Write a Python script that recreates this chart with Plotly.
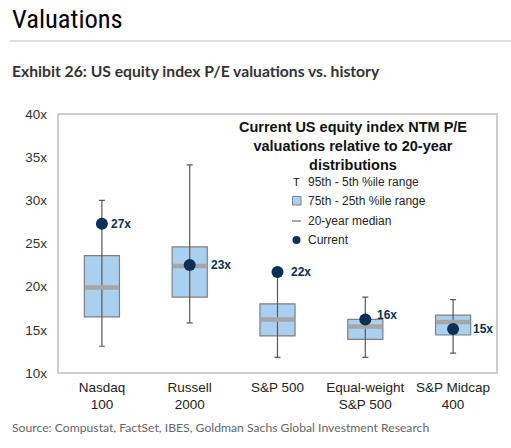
import plotly.graph_objects as go

# data (P/E multiples)
indexes = ["Nasdaq<br>100", "Russell<br>2000", "S&P 500", "Equal-weight<br>S&P 500", "S&P Midcap<br>400"]
p95 = [30.0, 34.1, 21.7, 18.8, 18.5]
p75 = [23.6, 24.6, 18.0, 16.2, 16.7]
median = [19.9, 22.4, 16.2, 15.4, 15.9]
p25 = [16.5, 18.8, 14.3, 13.9, 14.4]
p5 = [13.1, 15.8, 11.8, 11.8, 12.3]
current = [27.3, 22.5, 21.7, 16.2, 15.1]
current_labels = ["27x", "23x", "22x", "16x", "15x"]

BOX_BLUE = "#a9d0ef"
NAVY = "#0b2f57"
GREY = "#a6a6a6"
FONT = "Arial, Liberation Sans, sans-serif"

fig = go.Figure()

# interquartile boxes
fig.add_trace(go.Bar(
    x=indexes, y=[a - b for a, b in zip(p75, p25)], base=p25, width=0.4,
    marker=dict(color=BOX_BLUE, line=dict(color="#7f7f7f", width=1.2)),
    hoverinfo="skip", showlegend=False))

# 95th - 5th whiskers
fig.add_trace(go.Scatter(
    x=indexes, y=median, mode="markers", marker=dict(size=1, opacity=0),
    error_y=dict(type="data", symmetric=False,
                 array=[a - m for a, m in zip(p95, median)],
                 arrayminus=[m - b for m, b in zip(median, p5)],
                 color="#595959", thickness=1.2, width=3),
    hoverinfo="skip", showlegend=False))

# 20y median
fig.add_trace(go.Scatter(
    x=indexes, y=median, mode="markers",
    marker=dict(symbol="line-ew", size=24, line=dict(color=GREY, width=4.5)),
    showlegend=False))

# current
fig.add_trace(go.Scatter(
    x=indexes, y=current, mode="markers",
    marker=dict(size=12, color=NAVY),
    showlegend=False))

# screen pixel -> paper coords (plot area is 58..497 x 114..373)
def px(x):
    return (x - 58) / 439

def py(y):
    return (373 - y) / 259

annotations = [
    dict(text="Valuations", x=px(10), y=py(18), xanchor="left", yanchor="middle",
         font=dict(family="Liberation Sans Narrow, Roboto Condensed, Arial", size=26.5, color="#000000")),
    dict(text="<b>Exhibit 26: US equity index P/E valuations vs. history</b>", x=px(10), y=py(71),
         xanchor="left", yanchor="middle",
         font=dict(family="Lato, Open Sans, sans-serif", size=15.7, color="#333333")),
    dict(text="Source: Compustat, FactSet, IBES, Goldman Sachs Global Investment Research",
         x=px(10), y=py(427), xanchor="left", yanchor="middle",
         font=dict(family="Lato, Open Sans, sans-serif", size=12.2, color="#666666")),
    dict(text="<b>Current US equity index NTM P/E<br>valuations relative to 20-year<br>distributions</b>",
         x=px(353), y=py(146), xanchor="center", yanchor="middle", align="center",
         font=dict(family=FONT, size=14.5, color="#111111")),
    dict(text="T", x=px(296), y=py(182), xanchor="center", yanchor="middle",
         font=dict(family=FONT, size=11, color="#111111")),
]
legend_items = ["95th - 5th %ile range", "75th - 25th %ile range", "20-year median", "Current"]
legend_y = [182, 201, 221, 240]
for label, yy in zip(legend_items, legend_y):
    annotations.append(dict(text=label, x=px(306), y=py(yy), xanchor="left", yanchor="middle",
                            font=dict(family=FONT, size=12, color="#262626")))
for a in annotations:
    a.update(xref="paper", yref="paper", showarrow=False)

# value labels next to the current dots (offsets in px, as placed in the original)
label_dx = [7, 19, 11, 10, 18]
label_dy = [0, 0, 0, 4, 0]
for cat, val, lab, dx, dy in zip(indexes, current, current_labels, label_dx, label_dy):
    annotations.append(dict(x=cat, y=val, text="<b>" + lab + "</b>", xref="x", yref="y",
                            showarrow=False, xanchor="left", yanchor="middle",
                            xshift=dx, yshift=dy,
                            font=dict(family=FONT, size=12, color=NAVY)))

shapes = [
    dict(type="line", xref="paper", yref="paper", x0=px(10), x1=px(511), y0=py(41), y1=py(41),
         line=dict(color="#bdbdbd", width=1.2)),
    dict(type="rect", xref="paper", yref="paper", x0=0, x1=1, y0=0, y1=1,
         line=dict(color="#bfbfbf", width=1.5)),
    dict(type="rect", xref="paper", yref="paper", x0=px(292.5), x1=px(301), y0=py(205), y1=py(196.5),
         fillcolor=BOX_BLUE, line=dict(color="#7f7f7f", width=1)),
    dict(type="line", xref="paper", yref="paper", x0=px(292), x1=px(301), y0=py(221), y1=py(221),
         line=dict(color=GREY, width=2)),
    dict(type="circle", xref="paper", yref="paper", x0=px(292.5), x1=px(300.5), y0=py(244), y1=py(236),
         fillcolor=NAVY, line=dict(color=NAVY, width=0)),
]

fig.update_layout(
    width=511, height=448,
    margin=dict(l=58, r=14, t=114, b=75),
    paper_bgcolor="white", plot_bgcolor="white",
    font=dict(family=FONT, size=13, color="#333333"),
    annotations=annotations, shapes=shapes,
    xaxis=dict(showgrid=False, showline=False, ticks="", range=[-0.5, 4.5],
               ticklabelstandoff=4,
               tickfont=dict(family=FONT, size=13.5, color="#222222")),
    yaxis=dict(range=[10, 40], dtick=5, ticksuffix="x", showgrid=False, zeroline=False,
               showline=False, ticks="", ticklabelstandoff=10,
               tickfont=dict(family=FONT, size=13.5, color="#333333")),
)

# drop the default page margin so the figure sits at the window corner
fig.write_html("out.html", config={"displayModeBar": False},
               post_script="document.body.style.margin='0';")
